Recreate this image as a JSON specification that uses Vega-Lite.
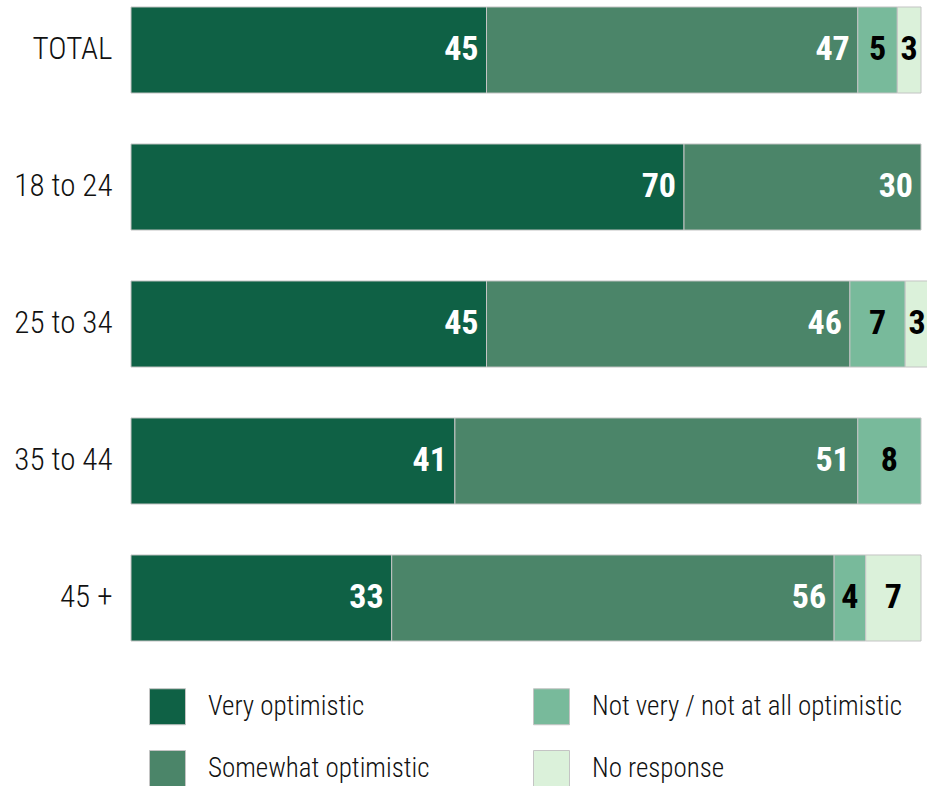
{
  "$schema": "https://vega.github.io/schema/vega-lite/v6.json",
  "width": 790,
  "height": 648,
  "autosize": {"type": "none"},
  "padding": {"left": 131, "top": 0, "right": 6, "bottom": 138},
  "config": {"view": {"stroke": null}, "font": "'Roboto Condensed', 'Noto Sans Condensed', 'DejaVu Sans Condensed', Roboto, sans-serif"},
  "data": {
    "values": [
      {"group": "TOTAL", "category": "Very optimistic", "value": 45},
      {"group": "TOTAL", "category": "Somewhat optimistic", "value": 47},
      {"group": "TOTAL", "category": "Not very / not at all optimistic", "value": 5},
      {"group": "TOTAL", "category": "No response", "value": 3},
      {"group": "18 to 24", "category": "Very optimistic", "value": 70},
      {"group": "18 to 24", "category": "Somewhat optimistic", "value": 30},
      {"group": "25 to 34", "category": "Very optimistic", "value": 45},
      {"group": "25 to 34", "category": "Somewhat optimistic", "value": 46},
      {"group": "25 to 34", "category": "Not very / not at all optimistic", "value": 7},
      {"group": "25 to 34", "category": "No response", "value": 3},
      {"group": "35 to 44", "category": "Very optimistic", "value": 41},
      {"group": "35 to 44", "category": "Somewhat optimistic", "value": 51},
      {"group": "35 to 44", "category": "Not very / not at all optimistic", "value": 8},
      {"group": "45 +", "category": "Very optimistic", "value": 33},
      {"group": "45 +", "category": "Somewhat optimistic", "value": 56},
      {"group": "45 +", "category": "Not very / not at all optimistic", "value": 4},
      {"group": "45 +", "category": "No response", "value": 7}
    ]
  },
  "transform": [
    {"stack": "value", "groupby": ["group"], "sort": [{"field": "category", "order": "descending"}], "as": ["v0", "v1"]},
    {"calculate": "(datum.v0 + datum.v1) / 2", "as": "mid"}
  ],
  "encoding": {
    "y": {
      "field": "group",
      "type": "nominal",
      "sort": ["TOTAL", "18 to 24", "25 to 34", "35 to 44", "45 +"],
      "scale": {"paddingInner": 0.372, "paddingOuter": 0.051},
      "axis": {"title": null, "ticks": false, "domain": false, "labelFontSize": 31, "labelFontWeight": 300, "labelColor": "#111111", "labelPadding": 19}
    }
  },
  "layer": [
    {
      "mark": {"type": "bar", "stroke": "#c4c4c4", "strokeWidth": 1},
      "encoding": {
        "x": {"field": "v0", "type": "quantitative", "scale": {"domain": [0, 100], "nice": false}, "axis": null},
        "x2": {"field": "v1"},
        "color": {
          "field": "category",
          "type": "nominal",
          "scale": {
            "domain": ["Very optimistic", "Somewhat optimistic", "Not very / not at all optimistic", "No response"],
            "range": ["#0f6145", "#4b8569", "#78ba9b", "#dbf1da"]
          },
          "legend": {
            "orient": "none",
            "legendX": 18,
            "legendY": 688,
            "columns": 2,
            "columnPadding": 101,
            "rowPadding": 21,
            "symbolType": "square",
            "symbolSize": 1296,
            "symbolStrokeColor": "#c4c4c4",
            "symbolStrokeWidth": 1,
            "symbolOpacity": 1,
            "labelFontSize": 27,
            "labelFontWeight": 300,
            "labelOffset": 22,
            "labelColor": "#111111",
            "labelLimit": 500,
            "title": null
          }
        }
      }
    },
    {
      "transform": [{"filter": "datum.category == 'Very optimistic' || datum.category == 'Somewhat optimistic'"}],
      "mark": {"type": "text", "align": "right", "baseline": "middle", "dx": -8, "fontWeight": "bold", "fontSize": 34, "color": "white"},
      "encoding": {
        "x": {"field": "v1", "type": "quantitative"},
        "text": {"field": "value", "type": "quantitative"}
      }
    },
    {
      "transform": [{"filter": "datum.category == 'Not very / not at all optimistic' || datum.category == 'No response'"}],
      "mark": {"type": "text", "align": "center", "baseline": "middle", "fontWeight": "bold", "fontSize": 34, "color": "black"},
      "encoding": {
        "x": {"field": "mid", "type": "quantitative"},
        "text": {"field": "value", "type": "quantitative"}
      }
    }
  ]
}
